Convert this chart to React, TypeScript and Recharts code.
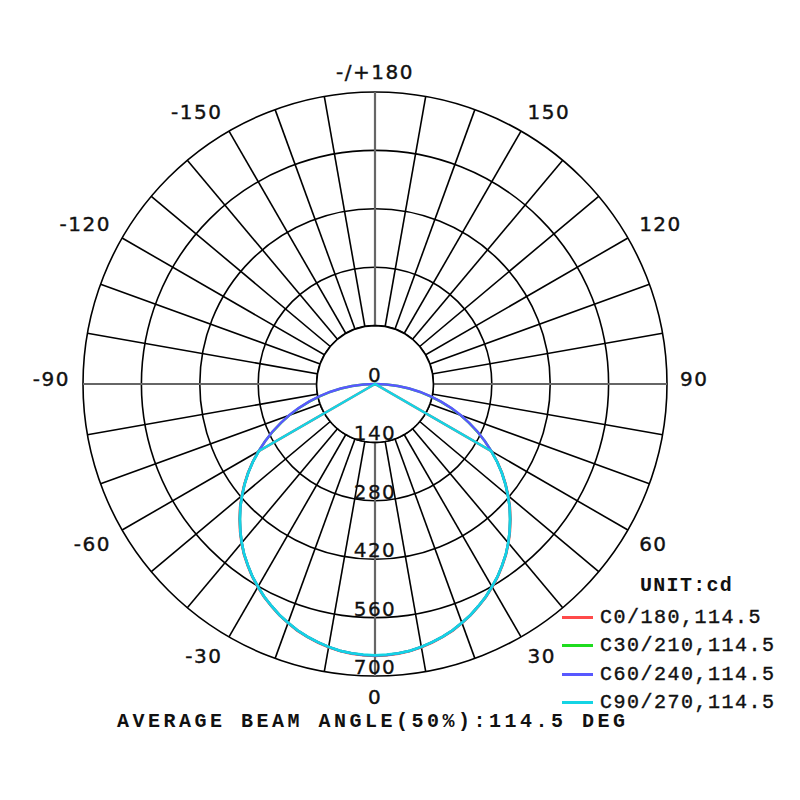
import { RadarChart, Radar, PolarGrid, PolarAngleAxis, PolarRadiusAxis } from "recharts";

// gamma angles of one half plane (0 = straight down), degrees
const gammaHalf = [
  0, 2.5, 5, 7.5, 10, 12.5, 15, 17.5, 20, 22.5, 25, 27.5, 30, 32.5, 35, 37.5, 40, 42.5, 45,
  47.5, 50, 52.5, 55, 57.5, 60, 62.5, 65, 67.5, 70, 72.5, 75, 77.5, 80, 82.5, 85, 87.5, 90,
  100, 110, 120, 130, 140, 150, 160, 170, 180,
];

// intensity in cd, same profile on both halves of each C-plane pair
const c0_180 = [
  652, 651, 649, 646, 641, 635, 628, 620, 610, 600, 588, 576, 562, 548, 532, 516, 498, 479, 459,
  439, 417, 395, 372, 348, 322, 0, 0, 0, 0, 0, 0, 0, 0, 0, 0, 0, 0,
  0, 0, 0, 0, 0, 0, 0, 0, 0,
];
const c30_210 = [
  651, 650, 648, 645, 640, 634, 627, 619, 609, 599, 587, 575, 561, 547, 531, 515, 497, 478, 458,
  438, 416, 394, 371, 347, 322, 297, 271, 244, 218, 191, 163, 136, 109, 82, 55, 27, 0,
  0, 0, 0, 0, 0, 0, 0, 0, 0,
];
const c60_240 = [
  651, 650, 648, 645, 640, 634, 627, 619, 609, 599, 587, 575, 561, 547, 531, 515, 497, 478, 458,
  438, 416, 394, 371, 347, 322, 297, 272, 245, 219, 192, 164, 137, 110, 83, 55, 28, 0,
  0, 0, 0, 0, 0, 0, 0, 0, 0,
];
const c90_270 = [
  650, 649, 648, 645, 640, 634, 627, 619, 609, 599, 587, 575, 561, 547, 531, 515, 497, 478, 458,
  438, 416, 394, 371, 347, 321, 0, 0, 0, 0, 0, 0, 0, 0, 0, 0, 0, 0,
  0, 0, 0, 0, 0, 0, 0, 0, 0,
];

const planeNames = ["C0/180,114.5", "C30/210,114.5", "C60/240,114.5", "C90/270,114.5"];
const planeColors = ["#ff4a4a", "#1fdc1f", "#5858ff", "#14d4e4"];
const planeValues = [c0_180, c30_210, c60_240, c90_270];

const angleTicks = [-150, -120, -90, -60, -30, 0, 30, 60, 90, 120, 150, 180];
const radiusTicks = [0, 140, 280, 420, 560, 700];
const beamText = "AVERAGE BEAM ANGLE(50%):114.5 DEG";
const unitText = "UNIT:cd";

// build rows from -180 to +180
const data: Record<string, number>[] = [];
for (let i = gammaHalf.length - 1; i >= 1; i--) {
  const row: Record<string, number> = { gamma: -gammaHalf[i], hub: radiusTicks[1] };
  planeValues.forEach((vals, k) => (row["p" + k] = vals[i]));
  data.push(row);
}
for (let i = 0; i < gammaHalf.length; i++) {
  const row: Record<string, number> = { gamma: gammaHalf[i], hub: radiusTicks[1] };
  planeValues.forEach((vals, k) => (row["p" + k] = vals[i]));
  data.push(row);
}

const spokes: number[] = [];
for (let a = 0; a < 360; a += 10) spokes.push(a);

const sans = "'DejaVu Sans', Verdana, sans-serif";
const mono = "'Liberation Mono', 'Courier New', monospace";

function AngleTick(props: any) {
  const { x, y, payload, textAnchor } = props;
  const v = payload.value;
  const dy = Math.sin((-payload.coordinate * Math.PI) / 180);
  const shift = Math.abs(dy) > 0.01 ? Math.sign(dy) * 7.5 : -5;
  return (
    <text
      x={x}
      y={y + shift}
      textAnchor={textAnchor}
      dominantBaseline="central"
      fontFamily={sans}
      fontSize={20}
      letterSpacing={1.5}
      fill="#111"
      stroke="#111"
      strokeWidth={0.4}
    >
      {v === 180 ? "-/+180" : String(v)}
    </text>
  );
}

function RadiusTick(props: any) {
  const { x, y, payload } = props;
  return (
    <text x={x} y={y - 2} textAnchor="middle" fontFamily={sans} fontSize={20} letterSpacing={1.5} fill="#111" stroke="#111" strokeWidth={0.3}>
      {payload.value}
    </text>
  );
}

export default function App() {
  return (
    <div style={{ position: "absolute", left: 0, top: 0, width: 800, height: 800, background: "#fff" }}>
      <RadarChart
        width={800}
        height={800}
        data={data}
        cx={375}
        cy={384}
        outerRadius={292}
        startAngle={-270}
        endAngle={90}
        margin={{ top: 0, right: 0, bottom: 0, left: 0 }}
      >
        <PolarGrid gridType="circle" polarAngles={spokes} stroke="#000" strokeWidth={1.6} />
        <PolarAngleAxis
          dataKey="gamma"
          type="number"
          domain={[-180, 180]}
          ticks={angleTicks}
          tick={<AngleTick />}
          tickSize={13}
          tickLine={false}
          axisLine={false}
        />
        <PolarRadiusAxis
          angle={-90}
          type="number"
          domain={[0, 700]}
          ticks={radiusTicks}
          tick={<RadiusTick />}
          tickLine={false}
          axisLine={false}
          allowDataOverflow
        />
        <Radar dataKey="hub" stroke="#000" strokeWidth={1.6} fill="#fff" fillOpacity={1} legendType="none" isAnimationActive={false} />
        <PolarGrid gridType="circle" polarAngles={[0, 90, 180, 270]} polarRadius={[]} stroke="#666" strokeWidth={2.2} />
        {planeNames.map((name, k) => (
          <Radar
            key={name}
            name={name}
            dataKey={"p" + k}
            stroke={planeColors[k]}
            strokeWidth={2.5}
            fill="none"
            fillOpacity={0}
            isAnimationActive={false}
          />
        ))}
      </RadarChart>

      <div
        style={{
          position: "absolute",
          left: 640,
          top: 576,
          fontFamily: mono,
          fontWeight: "bold",
          fontSize: 20,
          lineHeight: "20px",
          letterSpacing: 1.3,
          color: "#111",
        }}
      >
        {unitText}
      </div>
      {planeNames.map((name, k) => (
        <div
          key={name}
          style={{ position: "absolute", left: 562, top: 603 + k * 28.6, height: 28, display: "flex", alignItems: "center" }}
        >
          <div style={{ width: 31, height: 3, background: planeColors[k], marginRight: 7 }} />
          <span
            style={{
              fontFamily: mono,
              fontSize: 20,
              letterSpacing: 1.5,
              color: "#111",
              whiteSpace: "pre",
              WebkitTextStroke: "0.4px #111",
            }}
          >
            {name}
          </span>
        </div>
      ))}
      <div
        style={{
          position: "absolute",
          left: 117,
          top: 712,
          fontFamily: mono,
          fontWeight: "bold",
          fontSize: 20,
          lineHeight: "20px",
          letterSpacing: 3.5,
          color: "#111",
          whiteSpace: "pre",
        }}
      >
        {beamText}
      </div>
    </div>
  );
}
